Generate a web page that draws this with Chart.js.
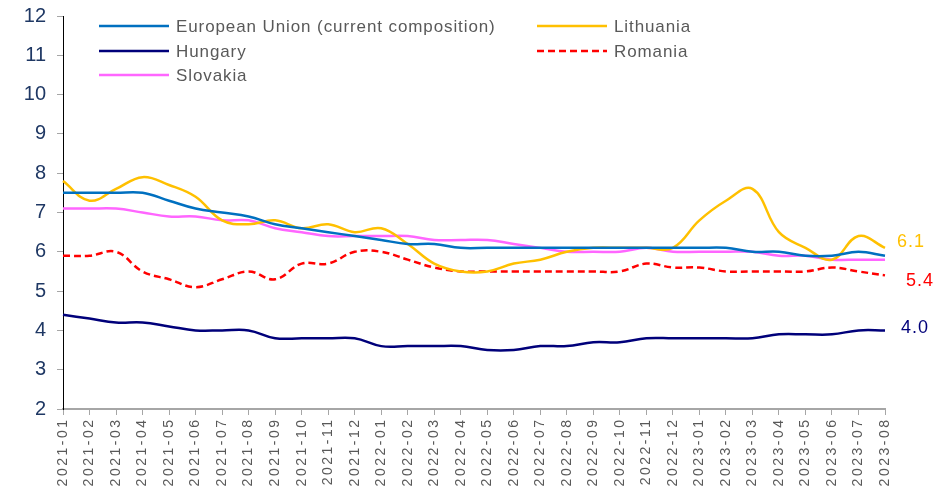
<!DOCTYPE html>
<html>
<head>
<meta charset="utf-8">
<script src="https://cdn.jsdelivr.net/npm/chart.js@4"></script>
<style>
  html, body { margin: 0; padding: 0; background: #fff; }
  #wrap { width: 942px; height: 490px; }
</style>
</head>
<body>
<div id="wrap"><canvas id="myChart" width="942" height="490"></canvas></div>
<script>
const months = ['2021-01','2021-02','2021-03','2021-04','2021-05','2021-06','2021-07','2021-08','2021-09','2021-10','2021-11','2021-12',
  '2022-01','2022-02','2022-03','2022-04','2022-05','2022-06','2022-07','2022-08','2022-09','2022-10','2022-11','2022-12',
  '2023-01','2023-02','2023-03','2023-04','2023-05','2023-06','2023-07','2023-08'];

const euValues = [7.5,7.5,7.5,7.5,7.3,7.1,7.0,6.9,6.7,6.6,6.5,6.4,6.3,6.2,6.2,6.1,6.1,6.1,6.1,6.1,6.1,6.1,6.1,6.1,6.1,6.1,6.0,6.0,5.9,5.9,6.0,5.9];
const lithuaniaValues = [7.8,7.3,7.6,7.9,7.7,7.4,6.8,6.7,6.8,6.6,6.7,6.5,6.6,6.2,5.7,5.5,5.5,5.7,5.8,6.0,6.1,6.1,6.1,6.1,6.8,7.3,7.6,6.5,6.1,5.8,6.4,6.1];
const hungaryValues = [4.4,4.3,4.2,4.2,4.1,4.0,4.0,4.0,3.8,3.8,3.8,3.8,3.6,3.6,3.6,3.6,3.5,3.5,3.6,3.6,3.7,3.7,3.8,3.8,3.8,3.8,3.8,3.9,3.9,3.9,4.0,4.0];
const romaniaValues = [5.9,5.9,6.0,5.5,5.3,5.1,5.3,5.5,5.3,5.7,5.7,6.0,6.0,5.8,5.6,5.5,5.5,5.5,5.5,5.5,5.5,5.5,5.7,5.6,5.6,5.5,5.5,5.5,5.5,5.6,5.5,5.4];
const slovakiaValues = [7.1,7.1,7.1,7.0,6.9,6.9,6.8,6.8,6.6,6.5,6.4,6.4,6.4,6.4,6.3,6.3,6.3,6.2,6.1,6.0,6.0,6.0,6.1,6.0,6.0,6.0,6.0,5.9,5.9,5.8,5.8,5.8];

const yTicks = [2,3,4,5,6,7,8,9,10,11,12];

const FONT = '"Liberation Sans", Arial, sans-serif';

const makeSet = (label, data, color, dashed) => ({
    label: label,
    data: data,
    borderColor: color,
    backgroundColor: color,
    borderWidth: 2.5,
    borderDash: dashed ? [7, 4] : [],
    pointRadius: 0,
    tension: 0.4,
    fill: false
});

const datasets = [
    makeSet('European Union (current composition)', euValues, '#0070C0', false),
    makeSet('Lithuania', lithuaniaValues, '#FFC000', false),
    makeSet('Hungary', hungaryValues, '#00007A', false),
    makeSet('Romania', romaniaValues, '#FF0000', true),
    makeSet('Slovakia', slovakiaValues, '#FF66FF', false)
];

// legend in two columns, drawn on the canvas
const legendPlugin = {
    id: 'twoColLegend',
    afterDraw(chart) {
        const ctx = chart.ctx;
        const cols = [99, 537];
        const rows = [26, 51, 75];
        ctx.save();
        ctx.font = '17px ' + FONT;
        ctx.letterSpacing = '0.9px';
        ctx.textBaseline = 'middle';
        chart.data.datasets.forEach((ds, i) => {
            const x = cols[i % 2];
            const y = rows[Math.floor(i / 2)];
            ctx.strokeStyle = ds.borderColor;
            ctx.lineWidth = 2.5;
            ctx.setLineDash(ds.borderDash);
            ctx.beginPath();
            ctx.moveTo(x, y);
            ctx.lineTo(x + 70, y);
            ctx.stroke();
            ctx.setLineDash([]);
            ctx.fillStyle = '#595959';
            ctx.fillText(ds.label, x + 77, y + 1);
        });
        ctx.restore();
    }
};

// month labels, rotated and letter-spaced like the original
const monthLabelPlugin = {
    id: 'monthLabels',
    afterDraw(chart) {
        const ctx = chart.ctx;
        const xs = chart.scales.x;
        ctx.save();
        ctx.font = '14px ' + FONT;
        ctx.letterSpacing = '2.5px';
        ctx.fillStyle = '#595959';
        ctx.textAlign = 'right';
        ctx.textBaseline = 'middle';
        chart.data.labels.forEach((lab, i) => {
            ctx.save();
            ctx.translate(xs.getPixelForValue(i), xs.top + 11);
            ctx.rotate(-Math.PI / 2);
            ctx.fillText(lab, 2.5, 0);
            ctx.restore();
        });
        ctx.restore();
    }
};

// last values printed at the right end
const endLabels = [
    { index: 1, color: '#FFC000', dx: 12, dy: -6 },
    { index: 3, color: '#FF0000', dx: 21, dy: 6 },
    { index: 2, color: '#00007A', dx: 16, dy: -2 }
];
const endLabelPlugin = {
    id: 'endLabels',
    afterDraw(chart) {
        const ctx = chart.ctx;
        const xs = chart.scales.x;
        const ys = chart.scales.y;
        ctx.save();
        ctx.font = '18px ' + FONT;
        ctx.letterSpacing = '1px';
        ctx.textBaseline = 'middle';
        endLabels.forEach(l => {
            const data = chart.data.datasets[l.index].data;
            const v = data[data.length - 1];
            ctx.fillStyle = l.color;
            ctx.fillText(v.toFixed(1), xs.getPixelForValue(data.length - 1) + l.dx, ys.getPixelForValue(v) + l.dy);
        });
        ctx.restore();
    }
};

new Chart(document.getElementById('myChart').getContext('2d'), {
    type: 'line',
    data: { labels: months, datasets: datasets },
    plugins: [legendPlugin, monthLabelPlugin, endLabelPlugin],
    options: {
        responsive: false,
        animation: false,
        layout: { padding: { top: 16, right: 57, left: 0, bottom: 0 } },
        plugins: { legend: { display: false }, tooltip: { enabled: false } },
        scales: {
            x: {
                offset: false,
                grid: { display: true, drawOnChartArea: false, drawTicks: true, tickLength: 6, color: '#A6A6A6', lineWidth: 1 },
                border: { color: '#A6A6A6', width: 2 },
                ticks: { autoSkip: false, display: false },
                afterFit(scale) {
                    scale.height = 81;
                    scale.paddingLeft = 0;
                    scale.paddingRight = 0;
                }
            },
            y: {
                min: 2,
                max: 12,
                afterBuildTicks(scale) { scale.ticks = yTicks.map(v => ({ value: v })); },
                grid: { display: true, drawOnChartArea: false, drawTicks: true, tickLength: 6, color: '#A6A6A6' },
                border: { color: '#000000', width: 1 },
                ticks: {
                    color: '#1F3864',
                    font: { family: FONT, size: 20 },
                    padding: 11
                },
                afterFit(scale) {
                    scale.width = 63;
                    scale.paddingTop = 0;
                    scale.paddingBottom = 0;
                }
            }
        }
    }
});
</script>
</body>
</html>
